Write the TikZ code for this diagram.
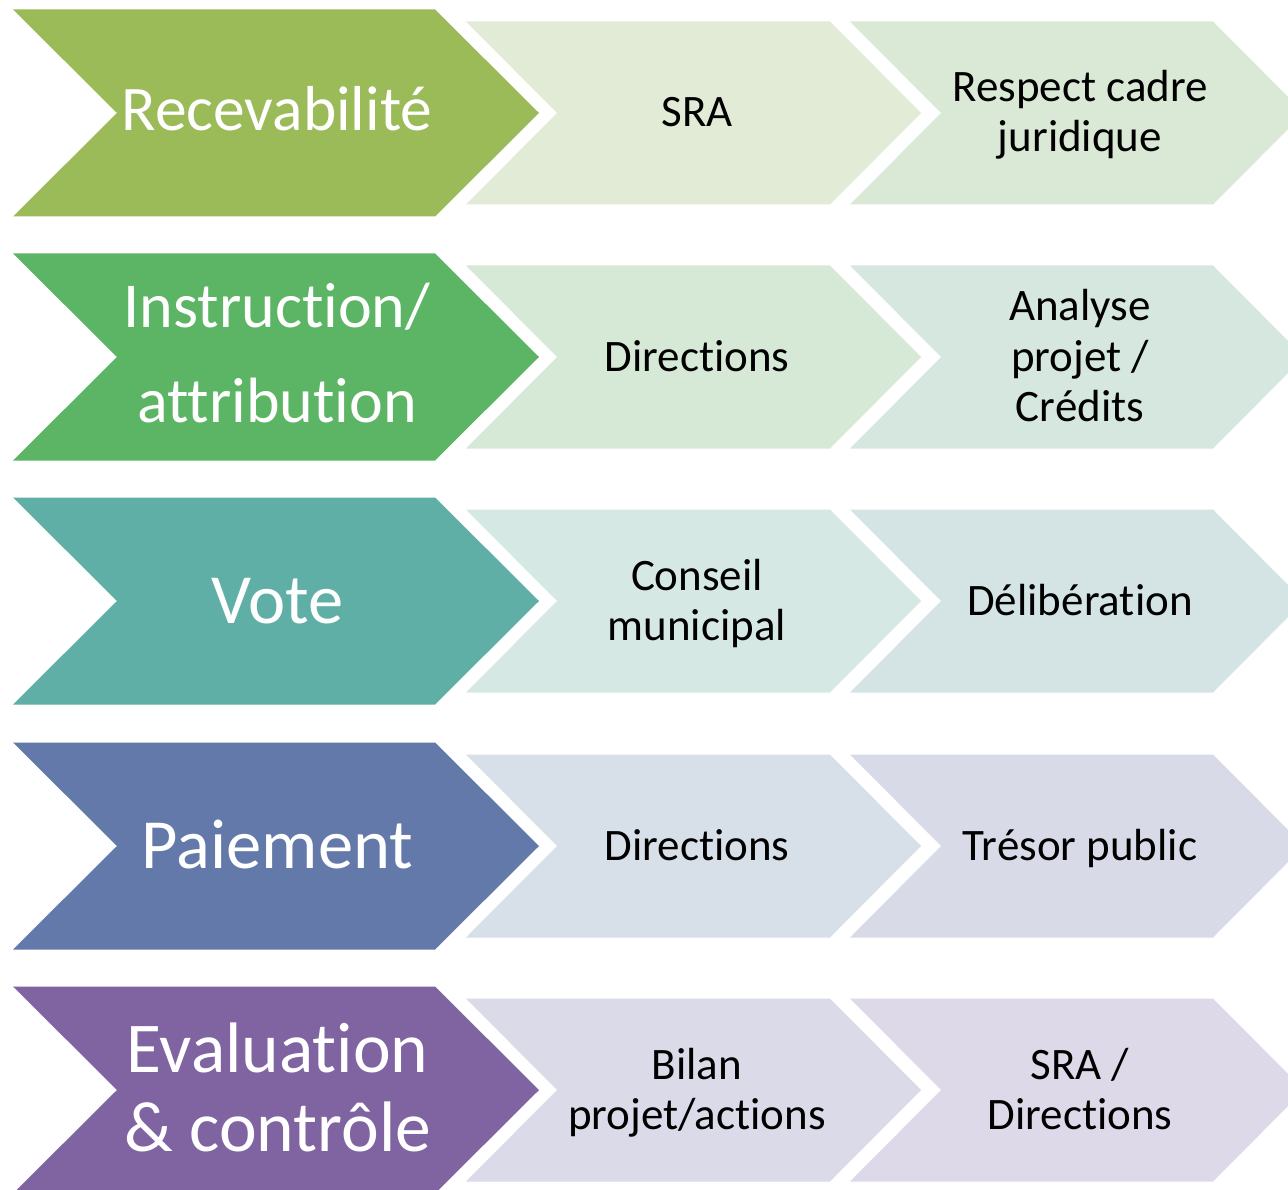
\documentclass[tikz,border=0pt]{standalone}
\usepackage{fontspec}
\setmainfont{Carlito}[Ligatures=NoCommon]
\definecolor{cA}{HTML}{9BBB59}
\definecolor{cB}{HTML}{5CB565}
\definecolor{cC}{HTML}{5FAFA6}
\definecolor{cD}{HTML}{6279A9}
\definecolor{cE}{HTML}{8064A2}
\definecolor{lA2}{HTML}{E2EBD6}
\definecolor{lA3}{HTML}{D9E9D6}
\definecolor{lB2}{HTML}{D6E9D6}
\definecolor{lB3}{HTML}{D6E7DF}
\definecolor{lC2}{HTML}{D5E8E4}
\definecolor{lC3}{HTML}{D4E4E5}
\definecolor{lD2}{HTML}{D7DFE8}
\definecolor{lD3}{HTML}{D8DBE7}
\definecolor{lE2}{HTML}{DADAE9}
\definecolor{lE3}{HTML}{DDD9E9}
% #1 colour, #2 left x, #3 centre y, #4 right x of body, #5 depth, #6 half height
\newcommand\mychev[6]{%
  \fill[#1] (#2,{#3-#6}) -- (#4,{#3-#6}) -- ({#4+#5},#3) -- (#4,{#3+#6})
    -- (#2,{#3+#6}) -- ({#2+#5},#3) -- cycle;}
\newcommand\myrow[4]{%
  \mychev{#2}{13}{#1}{435}{104}{103.5}%
  \mychev{#3}{466}{#1}{830}{91}{91.5}%
  \mychev{#4}{850}{#1}{1213}{91}{91.5}}
\tikzset{
  bigtxt/.style={text=white, anchor=base, inner sep=0pt},
  smalltxt/.style={text=black, anchor=base, inner sep=0pt,
    font=\fontsize{45}{50}\selectfont},
}
\begin{document}
\begin{tikzpicture}[x=1pt,y=-1pt]
\useasboundingbox[fill=white] (0,0) rectangle (1288,1190);
\begin{scope}
\clip (0,0) rectangle (1288,1190);
\myrow{113}{cA}{lA2}{lA3}
\myrow{357}{cB}{lB2}{lB3}
\myrow{601}{cC}{lC2}{lC3}
\myrow{846}{cD}{lD2}{lD3}
\myrow{1090}{cE}{lE2}{lE3}
\end{scope}
% row 1
\node[bigtxt, font=\fontsize{63.5}{63.5}\selectfont] (t1) at (277,131) {Recevabilité};
\node[smalltxt] (t1b) at (697,127) {SRA};
\node[smalltxt] (t1c) at (1080,102) {Respect cadre};
\node[smalltxt] (t1d) at (1080,152) {juridique};
% row 2
\node[bigtxt, font=\fontsize{64}{64}\selectfont] (t2) at (277,327) {Instruction/};
\node[bigtxt, font=\fontsize{64}{64}\selectfont] (t2a) at (277,422) {attribution};
\node[smalltxt] (t2b) at (697,371) {Directions};
\node[smalltxt] (t2c) at (1080,321) {Analyse};
\node[smalltxt] (t2d) at (1080,371) {projet /};
\node[smalltxt] (t2e) at (1080,421) {Crédits};
% row 3
\node[bigtxt, font=\fontsize{70.5}{70.5}\selectfont] (t3) at (277.5,623) {Vote};
\node[smalltxt] (t3b) at (697,590) {Conseil};
\node[smalltxt] (t3c) at (697,640) {municipal};
\node[smalltxt] (t3d) at (1080,615) {Délibération};
% row 4
\node[bigtxt, font=\fontsize{70.5}{70.5}\selectfont] (t4) at (277.5,868) {Paiement};
\node[smalltxt] (t4b) at (697,860) {Directions};
\node[smalltxt] (t4c) at (1080,860) {Trésor public};
% row 5
\node[bigtxt, font=\fontsize{71.5}{71.5}\selectfont] (t5) at (277.5,1072) {Evaluation};
\node[bigtxt, font=\fontsize{71.5}{71.5}\selectfont] (t5a) at (278,1151) {\& contrôle};
\node[smalltxt] (t5b) at (697,1079) {Bilan};
\node[smalltxt] (t5c) at (697,1129) {projet/actions};
\node[smalltxt] (t5d) at (1080,1079) {SRA /};
\node[smalltxt] (t5e) at (1080,1129) {Directions};
\end{tikzpicture}
\end{document}
